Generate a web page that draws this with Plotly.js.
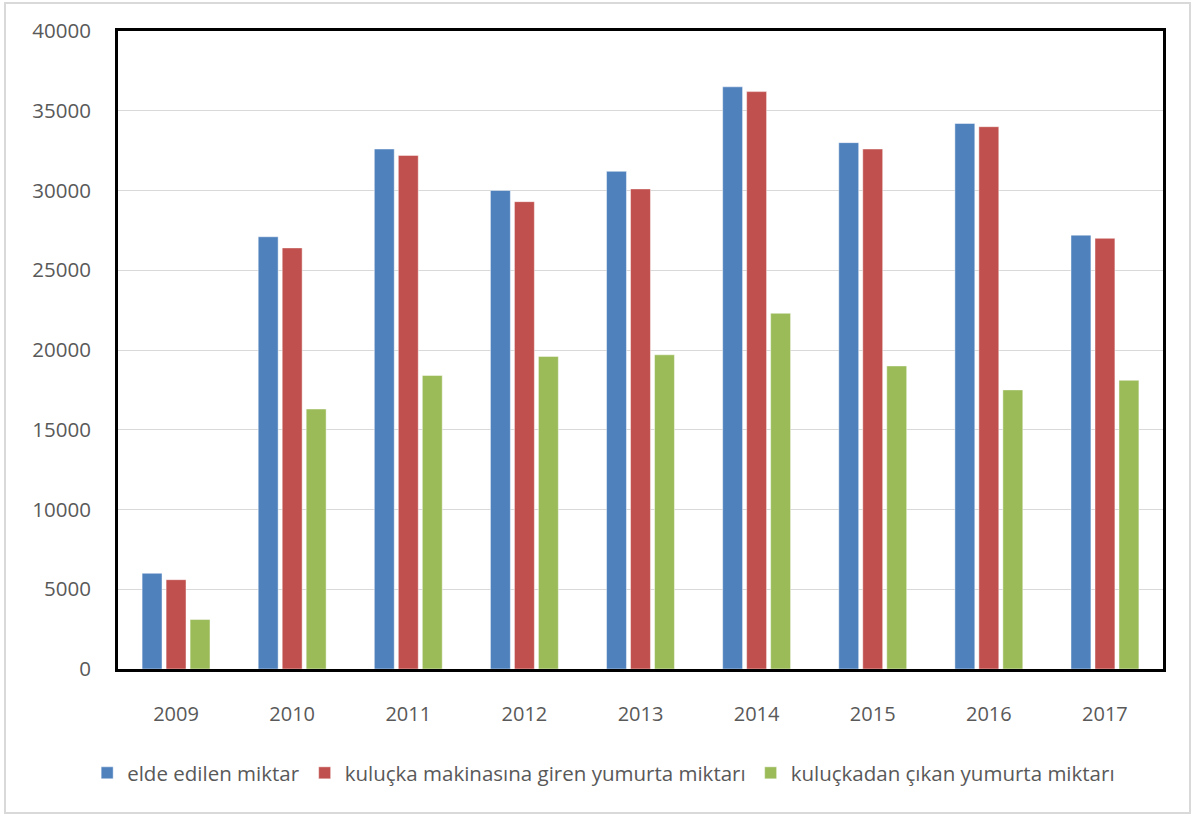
<!DOCTYPE html>
<html>
<head>
<meta charset="utf-8">
<script src="https://cdn.plot.ly/plotly-3.0.1.min.js"></script>
<style>
  html, body { margin: 0; padding: 0; background: #ffffff; }
  #chart { position: absolute; left: 0; top: 0; width: 1193px; height: 816px; }
  #frame { position: absolute; left: 4px; top: 2px; width: 1183px; height: 808px; border: 2px solid #d9d9d9; pointer-events: none; }
</style>
</head>
<body>
<div id="chart"></div>
<div id="frame"></div>
<script>
const years = ['2009', '2010', '2011', '2012', '2013', '2014', '2015', '2016', '2017'];
const seriesNames = ['elde edilen miktar', 'kuluçka makinasına giren yumurta miktarı', 'kuluçkadan çıkan yumurta miktarı'];
const eldeEdilen = [6000, 27100, 32600, 30000, 31200, 36500, 33000, 34200, 27200];
const makinayaGiren = [5600, 26400, 32200, 29300, 30100, 36200, 32600, 34000, 27000];
const kuluckadanCikan = [3100, 16300, 18400, 19600, 19700, 22300, 19000, 17500, 18100];
const colors = ['#4F81BD', '#C0504D', '#9BBB59'];
const yTicks = [0, 5000, 10000, 15000, 20000, 25000, 30000, 35000, 40000];

const seriesValues = [eldeEdilen, makinayaGiren, kuluckadanCikan];
const traces = seriesValues.map((vals, i) => ({
  type: 'bar',
  name: seriesNames[i],
  x: years,
  y: vals,
  marker: { color: colors[i], line: { color: 'rgba(255,255,255,0.45)', width: 1 } },
  hoverinfo: 'x+y'
}));

const fontFam = '"Open Sans", Lato, sans-serif';
const layout = {
  width: 1193,
  height: 816,
  paper_bgcolor: 'rgba(0,0,0,0)',
  plot_bgcolor: '#ffffff',
  margin: { l: 118, r: 30, t: 31, b: 147, autoexpand: false },
  barmode: 'group',
  bargap: 0.38,
  bargroupgap: 0.17,
  font: { family: fontFam, color: '#595959', size: 20 },
  xaxis: {
    type: 'category',
    showline: true, linecolor: '#000000', linewidth: 3, mirror: true,
    ticks: 'outside', ticklen: 25, tickcolor: 'rgba(0,0,0,0)',
    tickfont: { family: fontFam, size: 20, color: '#595959' },
    showgrid: false, zeroline: false
  },
  yaxis: {
    range: [0, 40000],
    tickvals: yTicks,
    ticktext: yTicks.map(String),
    showline: true, linecolor: '#000000', linewidth: 3, mirror: true,
    ticks: 'outside', ticklen: 20, tickcolor: 'rgba(0,0,0,0)',
    tickfont: { family: fontFam, size: 20.5, color: '#595959' },
    showgrid: true, gridcolor: '#d9d9d9', gridwidth: 1,
    zeroline: false
  },
  showlegend: true,
  legend: {
    orientation: 'h',
    xref: 'container', yref: 'container',
    x: 0.506, xanchor: 'center',
    y: 1 - 773 / 816, yanchor: 'middle',
    font: { family: fontFam, size: 20.5, color: '#595959' },
    itemwidth: 30,
    bgcolor: 'rgba(0,0,0,0)'
  }
};

Plotly.newPlot('chart', traces, layout, { displayModeBar: false, staticPlot: true });
</script>
</body>
</html>
